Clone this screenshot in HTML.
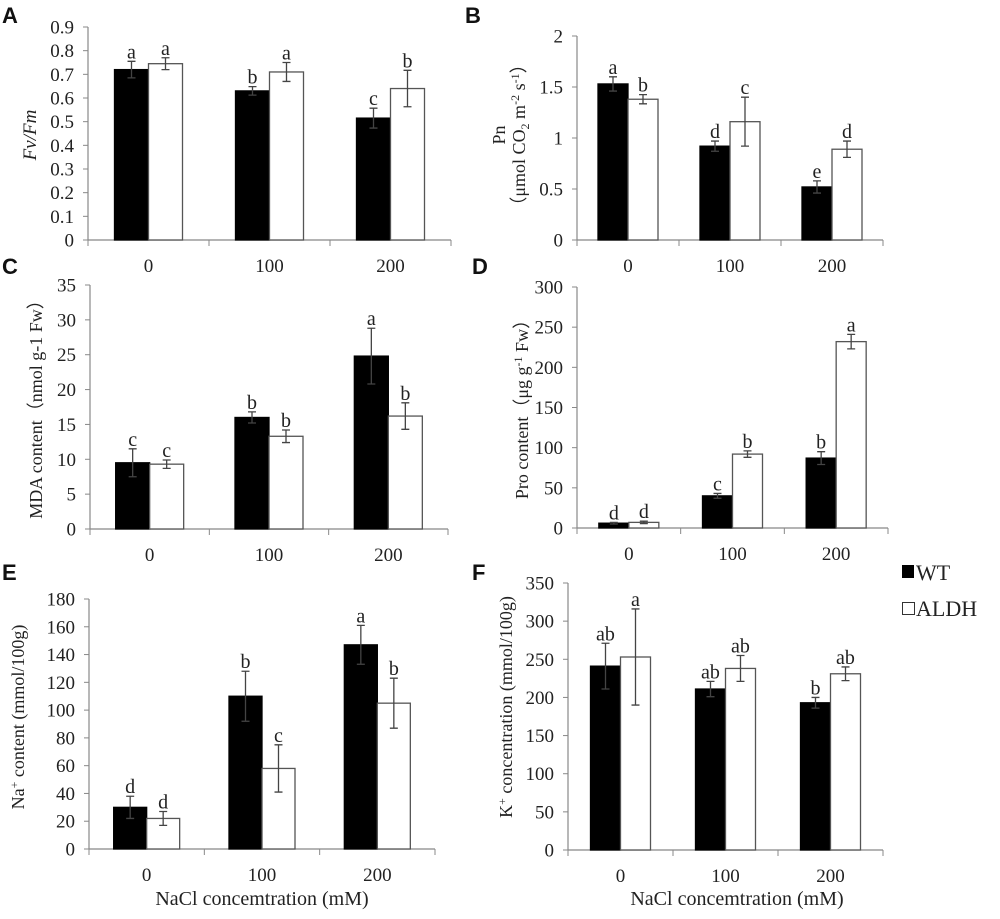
<!DOCTYPE html>
<html><head><meta charset="utf-8"><style>
html,body{margin:0;padding:0;background:#fff;width:1000px;height:919px;overflow:hidden}
svg{display:block}
text{font-family:"Liberation Serif",serif;fill:#222}
.pl{font-family:"Liberation Sans",sans-serif;font-weight:bold;font-size:22px;fill:#111}
</style></head><body>
<svg id="fig" width="1000" height="919" viewBox="0 0 1000 919"></svg>
<script>
const categories = ["0","100","200"];
const seriesNames = ["WT","ALDH"];
// Panel A Fv/Fm
const aWT = [0.72,0.63,0.515], aWTErr = [0.035,0.018,0.042];
const aAL = [0.745,0.71,0.64], aALErr = [0.025,0.04,0.077];
const aWTLet = ["a","b","c"], aALLet = ["a","a","b"];
const aTicks = ["0","0.1","0.2","0.3","0.4","0.5","0.6","0.7","0.8","0.9"];
// Panel B Pn
const bWT = [1.53,0.92,0.52], bWTErr = [0.07,0.05,0.06];
const bAL = [1.38,1.16,0.89], bALErr = [0.045,0.24,0.08];
const bWTLet = ["a","d","e"], bALLet = ["b","c","d"];
const bTicks = ["0","0.5","1","1.5","2"];
// Panel C MDA
const cWT = [9.5,16,24.8], cWTErr = [2,0.8,4];
const cAL = [9.3,13.3,16.2], cALErr = [0.6,0.9,1.9];
const cWTLet = ["c","b","a"], cALLet = ["c","b","b"];
const cTicks = ["0","5","10","15","20","25","30","35"];
// Panel D Pro
const dWT = [6,40,87], dWTErr = [1,3,8];
const dAL = [7,92,232], dALErr = [1.5,4,9];
const dWTLet = ["d","c","b"], dALLet = ["d","b","a"];
const dTicks = ["0","50","100","150","200","250","300"];
// Panel E Na+
const eWT = [30,110,147], eWTErr = [8,18,14];
const eAL = [22,58,105], eALErr = [5,17,18];
const eWTLet = ["d","b","a"], eALLet = ["d","c","b"];
const eTicks = ["0","20","40","60","80","100","120","140","160","180"];
// Panel F K+
const fWT = [241,211,193], fWTErr = [30,10,7];
const fAL = [253,238,231], fALErr = [63,17,9];
const fWTLet = ["ab","ab","b"], fALLet = ["a","ab","ab"];
const fTicks = ["0","50","100","150","200","250","300","350"];

const svg = document.getElementById('fig');
const NS = "http://www.w3.org/2000/svg";
function mk(tag, attrs, parent, txt){
  const e = document.createElementNS(NS, tag);
  for (const k in attrs) e.setAttribute(k, attrs[k]);
  if (txt !== undefined) e.textContent = txt;
  (parent||svg).appendChild(e);
  return e;
}

function panel(id, geo, wt, wtErr, al, alErr, wtLet, alLet, ticks){
  const g = mk('g', {});
  
  
  const tmax = parseFloat(ticks[ticks.length-1]);
  const y = v => geo.y0 - (v / tmax) * (geo.y0 - geo.yTop);
  const step = (geo.xEnd - geo.x0) / categories.length;
  const cx = i => geo.x0 + step * (i + 0.5);
  const ya = mk('line', {x1:geo.x0, y1:geo.yTop, x2:geo.x0, y2:geo.y0, stroke:'#888', 'stroke-width':1.2}, g);
  
  
  ticks.forEach(t => {
    const yy = y(parseFloat(t));
    mk('line', {x1:geo.x0-5, y1:yy, x2:geo.x0, y2:yy, stroke:'#888'}, g);
    const tl = mk('text', {x:geo.x0-14, y:yy+6.5, 'text-anchor':'end', 'font-size':19}, g, t);
    
    
  });
  const xa = mk('line', {x1:geo.x0, y1:geo.y0, x2:geo.xEnd, y2:geo.y0, stroke:'#888', 'stroke-width':1.2}, g);
  
  
  for (let i = 0; i <= categories.length; i++) {
    const xx = geo.x0 + step * i;
    mk('line', {x1:xx, y1:geo.y0, x2:xx, y2:geo.y0+6, stroke:'#888'}, g);
  }
  categories.forEach((c, i) => {
    const xl = mk('text', {x:cx(i), y:geo.y0+32, 'text-anchor':'middle', 'font-size':19}, g, c);
    
    
  });
  const bw = geo.bw;
  const series = [[wt, wtErr, wtLet, '#000', 0], [al, alErr, alLet, '#fff', 1]];
  categories.forEach((c, i) => {
    series.forEach(s => {
      const [vals, errs, lets, fill, k] = s;
      const x = cx(i) - bw + k * bw;
      const top = y(vals[i]);
      const r = mk('rect', {x:x, y:top, width:bw, height:geo.y0 - top, fill:fill, stroke: k ? '#555' : '#000', 'stroke-width':1.3}, g);
      
      
      const mx = x + bw / 2;
      const hi = y(vals[i] + errs[i]), lo = y(vals[i] - errs[i]);
      const eb = mk('path', {d:`M${mx},${hi}V${lo}M${mx-4},${hi}H${mx+4}M${mx-4},${lo}H${mx+4}`, stroke:'#444', 'stroke-width':1.3, fill:'none'}, g);
      
      
      const lt = mk('text', {x:mx, y:hi-3, 'text-anchor':'middle', 'font-size':20}, g, lets[i]);
      
      
    });
  });
  return g;
}

panel('a', {x0:88, xEnd:451, y0:240, yTop:27, bw:34}, aWT, aWTErr, aAL, aALErr, aWTLet, aALLet, aTicks);
panel('b', {x0:577, xEnd:883, y0:240, yTop:36, bw:30}, bWT, bWTErr, bAL, bALErr, bWTLet, bALLet, bTicks);
panel('c', {x0:90, xEnd:448, y0:529, yTop:285, bw:34}, cWT, cWTErr, cAL, cALErr, cWTLet, cALLet, cTicks);
panel('d', {x0:577, xEnd:888, y0:528, yTop:287, bw:30}, dWT, dWTErr, dAL, dALErr, dWTLet, dALLet, dTicks);
panel('e', {x0:89, xEnd:435, y0:849, yTop:599, bw:33}, eWT, eWTErr, eAL, eALErr, eWTLet, eALLet, eTicks);
panel('f', {x0:568, xEnd:883, y0:850, yTop:583, bw:30}, fWT, fWTErr, fAL, fALErr, fWTLet, fALLet, fTicks);
</script>
<svg width="1000" height="919" style="position:absolute;left:0;top:0">
  <text class="pl" x="2" y="23">A</text>
  <text class="pl" x="465" y="23">B</text>
  <text class="pl" x="2" y="274">C</text>
  <text class="pl" x="472" y="274">D</text>
  <text class="pl" x="2" y="580">E</text>
  <text class="pl" x="472" y="580">F</text>

  <text transform="translate(36,135) rotate(-90)" text-anchor="middle" font-size="19" font-style="italic">Fv/Fm</text>
  <text transform="translate(505,135) rotate(-90)" text-anchor="middle" font-size="18">Pn</text>
  <text transform="translate(525,135) rotate(-90)" text-anchor="middle" font-size="18">（μmol CO<tspan font-size="12" dy="4">2</tspan><tspan dy="-4"> m</tspan><tspan font-size="12" dy="-6">-2</tspan><tspan dy="6"> s</tspan><tspan font-size="12" dy="-6">-1</tspan><tspan dy="6">）</tspan></text>
  <text transform="translate(42,405) rotate(-90)" text-anchor="middle" font-size="18">MDA content（nmol g-1 Fw）</text>
  <text transform="translate(528,405) rotate(-90)" text-anchor="middle" font-size="18">Pro content（μg g<tspan font-size="12" dy="-6">-1</tspan><tspan dy="6"> Fw）</tspan></text>
  <text transform="translate(24,717) rotate(-90)" text-anchor="middle" font-size="18">Na<tspan font-size="12" dy="-6">+</tspan><tspan dy="6"> content (mmol/100g)</tspan></text>
  <text transform="translate(512,707) rotate(-90)" text-anchor="middle" font-size="18">K<tspan font-size="12" dy="-6">+</tspan><tspan dy="6"> concentration (mmol/100g)</tspan></text>

  <text x="262" y="905" text-anchor="middle" font-size="20">NaCl concemtration (mM)</text>
  <text x="737" y="905" text-anchor="middle" font-size="20">NaCl concemtration (mM)</text>

  <g>
    <rect x="902" y="565" width="12" height="13" fill="#000"/>
    <text x="916" y="580" font-size="22">WT</text>
    <rect x="902.5" y="602.5" width="12" height="12" fill="#fff" stroke="#333"/>
    <text x="916" y="616" font-size="22">ALDH</text>
  </g>
</svg>
</body></html>
